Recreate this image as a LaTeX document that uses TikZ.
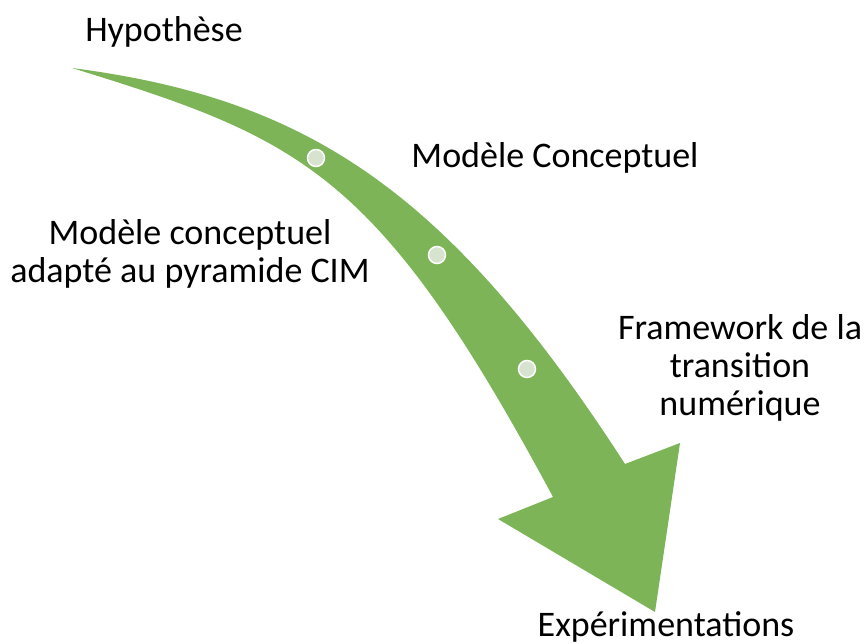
\documentclass[tikz,border=0pt]{standalone}
\usepackage{fontspec}
\setmainfont{Carlito}
\definecolor{vert}{RGB}{125,180,88}
\definecolor{pastille}{RGB}{214,227,207}

\begin{document}
\begin{tikzpicture}[x=1pt,y=-1pt,
	etape/.style={font=\fontsize{36}{38}\selectfont, align=center, inner sep=0pt},
	jalon/.style={circle, draw=white, line width=1.5pt, fill=pastille, minimum size=17pt, inner sep=0pt}]
	\useasboundingbox (0,0) rectangle (864,644);

	% fleche
	\fill [vert] (72,68) .. controls (302,98) and (445,185) .. (625,464)
		-- (680,443) -- (655,612) -- (498,519) -- (553,497)
		.. controls (378,171) and (302,139) .. (72,68) -- cycle;

	\node[jalon] (j1) at (316,158) {};
	\node[jalon] (j2) at (437,255) {};
	\node[jalon] (j3) at (527,369) {};

	\node[etape] (hypo) at (164,32) {Hypothèse};
	\node[etape] (modconc) at (555,158) {Modèle Conceptuel};
	\node[etape] (modcim) at (190,254) {Modèle conceptuel\\adapté au pyramide CIM};
	\node[etape] (framework) at (740,368) {Framework de la\\transition\\numérique};
	\node[etape] (exper) at (666,627) {Expérimentations};
\end{tikzpicture}
\end{document}
